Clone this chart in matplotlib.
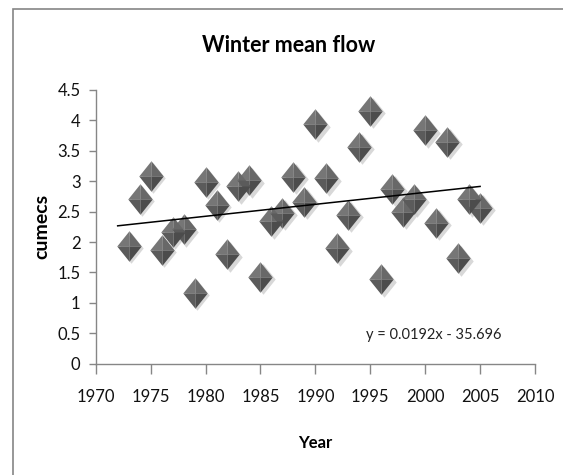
import numpy as np
import matplotlib
matplotlib.use("Agg")
import matplotlib.pyplot as plt
from matplotlib.path import Path
from matplotlib.patches import Rectangle
from matplotlib import font_manager
from matplotlib.ticker import FormatStrFormatter
import matplotlib.transforms as mtransforms

# winter mean flow (cumecs) by year
years = [1973, 1974, 1975, 1976, 1977, 1978, 1979, 1980, 1981, 1982, 1983,
         1984, 1985, 1986, 1987, 1988, 1989, 1990, 1991, 1992, 1993, 1994,
         1995, 1996, 1997, 1998, 1999, 2000, 2001, 2002, 2003, 2004, 2005]
flow = [1.94, 2.71, 3.09, 1.87, 2.17, 2.21, 1.17, 2.99, 2.61, 1.80, 2.92,
        3.02, 1.43, 2.34, 2.48, 3.07, 2.66, 3.94, 3.05, 1.90, 2.45, 3.57,
        4.16, 1.39, 2.88, 2.50, 2.70, 3.84, 2.32, 3.65, 1.73, 2.70, 2.56]
x_ticks = [1970, 1975, 1980, 1985, 1990, 1995, 2000, 2005, 2010]
y_ticks = [0, 0.5, 1, 1.5, 2, 2.5, 3, 3.5, 4, 4.5]
trend_start = 1972
equation = "y = 0.0192x - 35.696"

names = {f.name for f in font_manager.fontManager.ttflist}
fam = [f for f in ["Liberation Sans Narrow", "Lato", "DejaVu Sans"] if f in names]
plt.rcParams['font.family'] = fam

fig = plt.figure(figsize=(5.63, 4.75), dpi=100)
ax = fig.add_axes([95.7/563, 1-363.7/475, (535-95.7)/563, (363.7-90)/475])

# outer chart frame (only left and top edges fall inside the image)
fig.patches.append(Rectangle((12.5/563, -0.05), 1.2, 1.05 - 9/475, transform=fig.transFigure,
                             fill=False, edgecolor="#858585", linewidth=1.2))

# diamond facets (bevelled look)
w = 0.8
facets = [
    ([(0, 0), (0, 1), (-w, 0), (0, 0)], "#767676"),   # top-left
    ([(0, 0), (w, 0), (0, 1), (0, 0)], "#686868"),    # top-right
    ([(0, 0), (-w, 0), (0, -1), (0, 0)], "#5b5b5b"),  # bottom-left
    ([(0, 0), (0, -1), (w, 0), (0, 0)], "#4c4c4c"),   # bottom-right
]
diamond = Path([(0, 1), (w, 0), (0, -1), (-w, 0), (0, 1)], closed=True)
ms = 22

shadow = mtransforms.offset_copy(ax.transData, fig=fig, x=2.5, y=-2.5, units='dots')
ax.plot(years, flow, linestyle='none', marker=diamond, markersize=ms,
        markerfacecolor="#cfcfcf", markeredgecolor='none', alpha=0.8,
        transform=shadow, zorder=2, clip_on=False)
for verts, col in facets:
    ax.plot(years, flow, linestyle='none', marker=Path(verts, closed=True), markersize=ms,
            markerfacecolor=col, markeredgecolor='none', zorder=3, clip_on=False)

# linear trend over the data
coef = np.polyfit(years, flow, 1)
tx = np.array([trend_start, years[-1]])
ax.plot(tx, np.polyval(coef, tx), color="black", linewidth=1.1, zorder=4)

ax.text(2000.8, 0.47, equation, ha='center', va='center', fontsize=10.5, color="#222222")

ax.set_xlim(1970, 2010)
ax.set_ylim(0, 4.5)
ax.set_xticks(x_ticks)
ax.set_yticks(y_ticks)
ax.yaxis.set_major_formatter(FormatStrFormatter('%g'))
for s in ['top', 'right']:
    ax.spines[s].set_visible(False)
for s in ['left', 'bottom']:
    ax.spines[s].set_color("#868686")
    ax.spines[s].set_linewidth(1.0)
ax.tick_params(axis='x', direction='out', length=7, width=1, color="#868686",
               labelsize=12, pad=11, labelcolor="#111111")
ax.tick_params(axis='y', direction='out', length=5, width=1, color="#868686",
               labelsize=12, pad=6, labelcolor="#111111")

fig.text(289/563, 1-45/475, "Winter mean flow", ha='center', va='center',
         fontsize=15.5, fontweight='bold')
fig.text(41.7/563, 1-226.7/475, "cumecs", ha='center', va='center',
         rotation=90, fontsize=14, fontweight='bold')
fig.text(315/563, 1-443/475, "Year", ha='center', va='center',
         fontsize=12, fontweight='bold')

fig.savefig("out.png", dpi=100)
